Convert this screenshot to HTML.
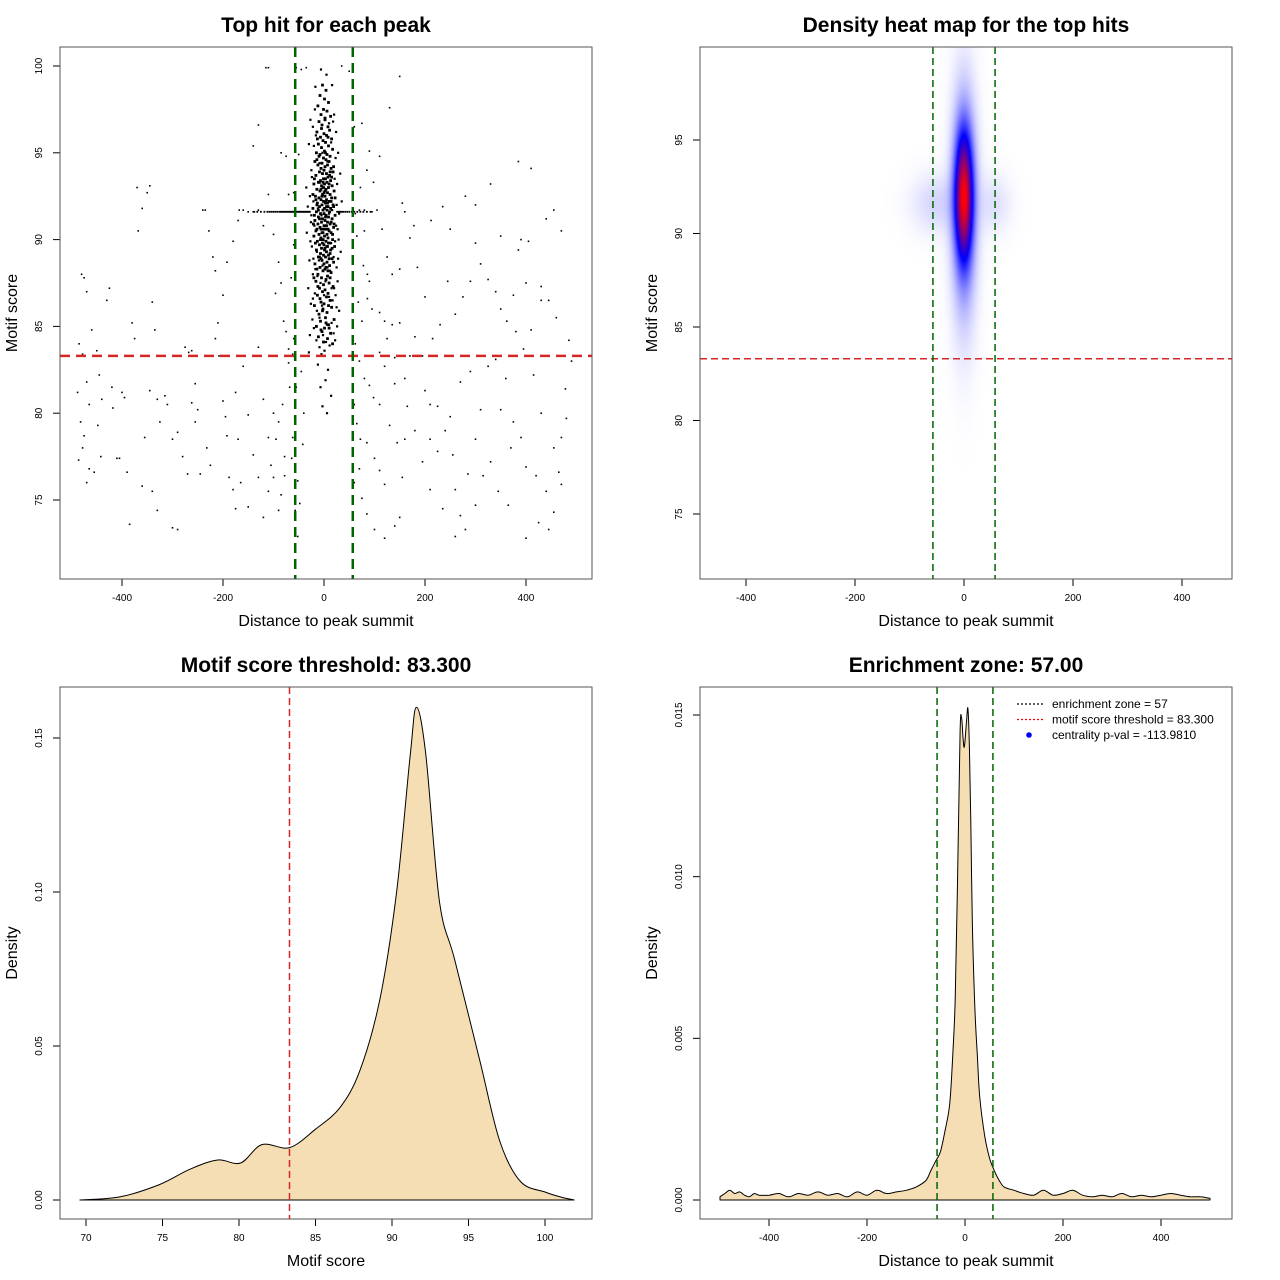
<!DOCTYPE html>
<html><head><meta charset="utf-8">
<style>
html,body{margin:0;padding:0;background:#fff;}
svg{display:block;font-family:"Liberation Sans",sans-serif;}
</style></head>
<body>
<svg id="root" width="1280" height="1280" viewBox="0 0 1280 1280" xmlns="http://www.w3.org/2000/svg">
<rect width="1280" height="1280" fill="#fff"/>
<foreignObject x="700" y="47" width="532" height="532">
<canvas id="heat" width="532" height="532" xmlns="http://www.w3.org/1999/xhtml" style="display:block"></canvas>
</foreignObject>
</svg>
<script>
// ---------- DATA ----------
const hitsBackground = [[-480,88],[-475,87.8],[-470,87],[-485,84],[-478,83.4],[-488,81.2],[-470,81.8],[-465,80.5],[-482,79.5],[-475,78.7],[-478,78],[-486,77.3],[-465,76.8],[-470,76],[-455,76.6],[-460,84.8],[-450,83.6],[-445,82.2],[-440,80.8],[-448,79.3],[-442,77.5],[-430,86.5],[-425,87.2],[-420,81.5],[-418,80.3],[-410,77.4],[-405,77.4],[-400,81.2],[-395,80.9],[-390,76.6],[-385,73.6],[-380,85.2],[-375,84.3],[-368,90.5],[-360,91.8],[-370,93],[-350,92.7],[-345,93.1],[-340,86.4],[-335,84.8],[-330,80.8],[-325,79.5],[-345,81.3],[-355,78.6],[-360,75.8],[-340,75.5],[-330,74.4],[-315,81],[-310,80.5],[-300,78.5],[-290,78.9],[-280,77.5],[-275,83.8],[-268,83.5],[-262,83.6],[-255,81.7],[-250,80.2],[-245,76.5],[-240,91.7],[-235,91.7],[-228,90.5],[-220,89],[-215,88.2],[-210,85.2],[-208,83.3],[-200,80.7],[-195,79.8],[-192,78.7],[-188,76.3],[-180,75.6],[-175,74.5],[-300,73.4],[-290,73.3],[-270,76.5],[-262,80.6],[-255,79.5],[-232,78],[-225,77],[-215,84.3],[-200,86.8],[-192,88.7],[-180,89.9],[-170,91.1],[-168,91.7],[-160,91.7],[-150,91.6],[-140,91.6],[-130,91.7],[-120,90.8],[-110,92.6],[-100,90.3],[-96,86.9],[-90,88.7],[-85,87.5],[-80,85.3],[-75,84.7],[-70,83.7],[-70,82.9],[-68,81.5],[-82,80.5],[-90,79.5],[-95,78.5],[-100,80],[-105,77],[-110,75.5],[-120,74],[-130,76.3],[-140,77.6],[-150,79.9],[-160,82.7],[-175,81.2],[-130,83.8],[-120,80.8],[-110,78.6],[-100,76.3],[-90,74.4],[-85,75.3],[-78,76.4],[-78,77.5],[-150,74.6],[-165,76],[-170,78.5],[-140,95.4],[-130,96.6],[-85,95],[-75,94.8],[-70,92.6],[-60,92.7],[-115,99.9],[-110,99.9],[-55,99.9],[-45,99.8],[-35,99.9],[-50,94.9],[-60,89.7],[-65,87.8],[-58,86],[-60,84.3],[-62,83.4],[-55,81.5],[-58,79.8],[-62,78.6],[-64,77.4],[-52,76.1],[-57,74.4],[-52,72.9],[-48,74.8],[-42,78.2],[-40,80],[-45,82.4],
[60,96.5],[75,96.7],[90,95.1],[110,94.8],[85,94],[72,93],[98,93.3],[80,91.7],[70,91.7],[95,91.6],[105,91.7],[62,91.5],[65,90.2],[80,90.5],[78,88.5],[86,88],[90,87.6],[68,86.4],[75,85.3],[86,86.6],[95,86],[110,85.8],[120,85.3],[135,85.1],[150,85.2],[62,84],[70,83],[80,82],[90,81.6],[98,80.9],[110,80.5],[60,80.5],[65,79.4],[72,78.5],[85,78.3],[100,77.4],[110,76.7],[120,75.9],[70,76.8],[60,76],[75,75.1],[85,74.2],[100,73.3],[120,72.8],[140,73.5],[150,74],[155,76.3],[160,78.5],[165,80.4],[170,83.3],[180,84.4],[195,83.3],[200,81.3],[210,80.5],[225,80.4],[240,79],[255,77.6],[260,75.6],[270,74.1],[285,76.5],[300,78.5],[310,80.2],[325,82.7],[340,83.1],[360,82],[375,79.5],[390,78.6],[400,76.9],[420,76.4],[440,75.5],[455,74.3],[465,76.6],[470,78.6],[480,79.7],[478,81.4],[490,83],[485,84.2],[460,85.5],[445,86.5],[430,87.3],[410,84.8],[395,83.7],[380,84.7],[362,85.3],[350,86],[340,87],[325,87.7],[310,88.6],[300,89.8],[290,87.6],[275,86.7],[260,85.7],[245,87.6],[230,85.1],[215,84.3],[200,86.7],[185,88.4],[170,90.1],[160,91.6],[155,92.1],[178,90.8],[212,91.1],[235,91.9],[250,90.6],[280,92.5],[300,92],[330,93.2],[385,94.5],[410,94.1],[440,91.2],[455,91.7],[470,90.5],[385,89.4],[390,90],[405,89.9],[430,86.5],[350,90.2],[375,86.8],[400,87.5],[180,79],[195,77.2],[210,75.6],[235,74.5],[260,72.9],[280,73.3],[300,74.7],[315,76.4],[330,77.2],[345,75.5],[365,74.7],[400,72.8],[425,73.7],[445,73.3],[470,75.9],[160,82],[140,81.7],[120,82.7],[130,79.3],[145,78.3],[150,99.4],[130,97.6],[50,99.7],[35,100],[115,90.6],[125,89],[135,88],[150,88.3],[125,84.3],[140,83.2],[110,83.5],[210,78.5],[225,77.8],[250,79.8],[270,81.8],[290,82.4],[350,80.2],[370,78],[455,78],[430,80],[415,82.2]];

const bandDist = [-138,-132,-125,-118,-112,-108,-104,-100,-96,-92,-88,-85,-82,-79,-76,-73,-70,-68,-66,-64,-62,-60,-58,-56,-54,-52,-50,-48,-46,-44,-42,-40,-38,-36,-34,-32,-30,-28,26,28,30,32,35,38,42,46,50,55,60,66,72,78,85,92];
const bandScore = 91.6;

const coreFlat = [-3,98.9,4,98.6,-8,98.3,1,98.1,9,97.9,-12,97.7,-1,97.5,6,97.4,-6,97.2,13,97.1,2,96.9,-10,96.8,-4,96.6,8,96.5,11,96.3,-14,96.2,0,96.1,5,96.0,-7,95.9,15,95.8,-2,95.7,3,95.6,-11,95.5,9,95.4,-5,95.3,17,95.2,1,95.1,-15,95.0,6,94.9,-8,94.9,12,94.8,-1,94.7,4,94.6,-18,94.5,10,94.5,-4,94.4,7,94.3,-12,94.3,2,94.2,14,94.1,-6,94.1,0,94.0,-9,93.9,18,93.9,5,93.8,-3,93.8,11,93.7,-16,93.7,8,93.6,-1,93.5,3,93.5,-7,93.4,13,93.4,-11,93.3,6,93.3,-20,93.2,1,93.2,16,93.1,-5,93.1,9,93.0,-2,93.0,-14,92.9,4,92.9,20,92.8,-8,92.8,0,92.7,7,92.7,-3,92.6,12,92.6,-17,92.5,2,92.5,-10,92.4,15,92.4,5,92.3,-6,92.3,-1,92.2,10,92.2,-13,92.1,3,92.1,18,92.0,-4,92.0,8,91.9,-9,91.9,1,91.8,-22,91.8,13,91.8,-2,91.7,6,91.7,-15,91.6,11,91.6,-7,91.5,0,91.5,22,91.4,4,91.4,-11,91.3,9,91.3,-3,91.2,16,91.2,-18,91.1,2,91.1,7,91.0,-5,91.0,-12,90.9,12,90.9,0,90.8,5,90.8,-8,90.7,19,90.7,-1,90.6,3,90.6,-16,90.5,10,90.5,-4,90.4,14,90.4,6,90.3,-10,90.3,1,90.2,-20,90.2,8,90.1,-6,90.1,-2,90.0,17,90.0,4,89.9,-13,89.9,11,89.8,-3,89.8,0,89.7,-9,89.7,7,89.6,21,89.6,-5,89.5,2,89.5,-15,89.4,13,89.4,5,89.3,-7,89.2,-1,89.1,9,89.1,-11,89.0,3,89.0,16,88.9,-4,88.8,6,88.7,-18,88.6,0,88.6,11,88.5,-8,88.4,2,88.3,-2,88.2,14,88.1,-12,88.0,7,87.9,-5,87.8,4,87.7,-16,87.6,10,87.5,-1,87.4,18,87.3,-9,87.2,2,87.1,-3,87.0,8,86.9,-13,86.8,5,86.7,12,86.5,-6,86.4,0,86.3,-19,86.2,15,86.1,-2,86.0,6,85.8,-10,85.7,3,85.5,20,85.4,-7,85.3,9,85.1,-15,85.0,1,84.9,-4,84.7,13,84.6,-11,84.4,7,84.3,-1,84.1,17,84.0,
-14,94.6,19,94.2,-19,93.5,15,93.6,-9,93.3,10,93.2,-6,92.9,14,92.2,-14,92.0,19,91.9,-19,91.4,5,91.9,-9,91.2,14,91.0,-14,90.6,17,90.3,-7,90.0,9,89.8,-17,89.8,1,89.4,12,89.2,-9,89.0,4,88.4,-14,88.3,10,88.9,-6,88.9,19,88.7,-20,87.8,8,88.2,-2,93.3,2,92.8,-4,92.5,7,92.1,-11,91.7,3,91.3,-6,90.6,8,90.6,-2,90.4,12,93.9,-10,94.8,3,95.0,-13,95.8,8,95.9,-5,96.4,2,97.0,-16,92.3,22,92.4,-22,92.6,20,90.9,-21,90.9,16,89.5,-12,87.3,12,87.8,-8,86.6,9,86.2,-3,85.9,4,85.2,-6,84.8,10,84.9];

const coreOuter = [-30,95.5,28,95,-25,94,32,93.8,-35,93,26,93.2,-28,92.5,35,92.2,-32,91.9,30,91.5,-26,91,24,90.8,-34,90.4,29,90,-24,89.6,33,89.3,-29,88.8,25,88.4,-22,88,27,87.6,-31,87.2,23,86.8,-26,86.3,30,85.9,-23,85.4,26,85,-28,84.5,22,84.2,-18,97.5,20,97.2,-22,96.5,24,96.2,-27,96.9,18,96.8,-20,95.4,23,94.7,-24,93.6,21,93.5,-21,92.2,25,92,-25,91.4,27,90.6,-19,90.8,22,89.9,-27,89.9,19,89,-21,88.9,28,88.9,-17,88.3,20,87.2,-18,86.9,17,86.5,-22,86.6,25,86.1,-14,85.9,15,85.2,-20,84.9,19,84.6,-9,83.8,11,83.9,-30,83.5,28,83.3,-17,98.8,16,98.9,5,99.5,-6,99.8,10,96.7,-16,96.0,14,95.6,-3,95.0,7,94.5,-9,94.4,0,93.0,4,92.2,-12,91.8,16,91.7,-5,91.4,10,91.5,-1,90.0,5,89.6,-14,89.3,14,89.8,-3,88.5,7,88.4,-10,88.8,12,88.2,-7,87.5,3,87.6,-13,87.9,15,87.2,0,86.8,-4,86.2,10,86.7,-9,85.5,6,85.1,-2,84.5,4,84.1,-15,84.2,1,83.6,-5,83.4,8,82.5,-12,82.8,3,81.9,-7,81.5,14,81,-3,80.4,6,80];

// heat map density blobs: [dist, score, sdDist, sdScore, weight]
const heatBlobs = [[0,92,11,2.3,0.8],[0,91.5,16,4.2,0.28],[-50,91.6,32,1.1,0.08],[55,91.6,22,1.1,0.06]];

// score density
const scoreGrid = [69.6,72.2,74.8,76.8,78.6,80.1,81.5,83.3,85,86.6,87.9,89.2,90.3,91.2,91.6,92.2,93.1,94.1,95.75,97.05,98.4,100,101,101.9];
const scoreDens = [0,0.001,0.005,0.010,0.013,0.012,0.018,0.017,0.023,0.030,0.042,0.065,0.10,0.145,0.160,0.145,0.097,0.078,0.045,0.019,0.006,0.0026,0.001,0];

// distance density (units 1e-4)
const distGrid = [-500,-490,-480,-470,-460,-450,-440,-430,-420,-400,-380,-360,-340,-320,-300,-280,-260,-240,-220,-200,-180,-160,-140,-120,-100,-80,-70,-60,-50,-40,-31,-25,-20,-15,-10,-7,-4,-2,0,3,6,9,12,15,20,25,30,40,50,60,70,80,100,120,140,160,180,200,220,240,260,280,300,320,340,360,380,400,420,440,460,480,500];
const distDens = [1,2,3,2,2.5,1.5,1,2,1.5,1.5,2,1,2,1.5,2.5,1.5,2,1,2.5,1.5,3,2,2.5,3,4,6,9,12,15,22,30,45,62,100,145,149,143,140,142,148,152,140,115,85,60,45,32,20,13,9,6,4,3,2,1.5,3,1.5,2,3,1.5,1,1.5,1,2,1,1.5,1,1.5,2,1.5,1,1,0.5];

const xTicksDist = [-400,-200,0,200,400];
const yTicksScore1 = [75,80,85,90,95,100];
const yTicksScore2 = [75,80,85,90,95];
const xTicksScore = [70,75,80,85,90,95,100];
const yTicksDens3 = [0,0.05,0.10,0.15];
const yTicksDens4 = [0,0.005,0.010,0.015];
const threshold = 83.3;
const zone = 57;

// ---------- DRAW ----------
const NS='http://www.w3.org/2000/svg';
const root=document.getElementById('root');
function el(tag,attrs,parent){const e=document.createElementNS(NS,tag);for(const k in attrs)e.setAttribute(k,attrs[k]);(parent||root).appendChild(e);return e;}
function lin(d0,d1,p0,p1){return v=>p0+(v-d0)*(p1-p0)/(d1-d0);}
function txt(x,y,s,opt,name){const t=el('text',Object.assign({x:x,y:y,'text-anchor':'middle','font-size':opt.size||10,fill:'#000'},opt.attrs||{}));t.textContent=s;


return t;}

function panel(P){
  const g=el('g',{});
  
  
  txt((P.x0+P.x1)/2,P.y0-15,P.title,{size:21,attrs:{'font-weight':'bold'}},'chart-title');
  P.xt.forEach((v,i)=>{const x=P.sx(v);
    const l=el('line',{x1:x,x2:x,y1:P.y1,y2:P.y1+7,stroke:'#000','stroke-width':1});
    
    
    txt(x,P.y1+22,P.xl[i],{size:10},'x-tick-label');});
  const xa=el('line',{x1:P.sx(P.xt[0]),x2:P.sx(P.xt[P.xt.length-1]),y1:P.y1,y2:P.y1,stroke:'#000'});
  
  
  P.yt.forEach((v,i)=>{const y=P.sy(v);
    const l=el('line',{x1:P.x0-7,x2:P.x0,y1:y,y2:y,stroke:'#000'});
    
    
    txt(P.x0-18,y,P.yl[i],{size:10,attrs:{transform:`rotate(-90 ${P.x0-18} ${y})`}},'y-tick-label');});
  const ya=el('line',{x1:P.x0,x2:P.x0,y1:P.sy(P.yt[0]),y2:P.sy(P.yt[P.yt.length-1]),stroke:'#000'});
  
  
  txt((P.x0+P.x1)/2,P.y1+47,P.xlab,{size:16},'x-axis-title');
  const yx=P.x0-43,yy=(P.y0+P.y1)/2;
  txt(yx,yy,P.ylab,{size:16,attrs:{transform:`rotate(-90 ${yx} ${yy})`}},'y-axis-title');
}
function box(P){const b=el('rect',{x:P.x0,y:P.y0,width:P.x1-P.x0,height:P.y1-P.y0,fill:'none',stroke:'#555','stroke-width':1});
  
  }
function clipFor(P,id){const c=el('clipPath',{id:id});el('rect',{x:P.x0,y:P.y0,width:P.x1-P.x0,height:P.y1-P.y0},c);return `url(#${id})`;}

// Panel 1: scatter
const P1={x0:60,x1:592,y0:47,y1:579,sx:lin(0,400,324,526),sy:lin(75,100,500,66),xt:xTicksDist,xl:xTicksDist.map(String),yt:yTicksScore1,yl:yTicksScore1.map(String),title:'Top hit for each peak',xlab:'Distance to peak summit',ylab:'Motif score',name:'scatter-panel'};
panel(P1);
const g1=el('g',{'clip-path':clipFor(P1,'c1'),fill:'#000'});
function dot(x,y,s){const r=el('rect',{x:(x-s/2).toFixed(1),y:(y-s/2).toFixed(1),width:s,height:s},g1);
  
  }
hitsBackground.forEach(p=>dot(P1.sx(p[0]),P1.sy(p[1]),1.6));
bandDist.forEach(d=>dot(P1.sx(d),P1.sy(bandScore),1.8));
for(let i=0;i<coreFlat.length;i+=2){dot(P1.sx(coreFlat[i]),P1.sy(coreFlat[i+1]),2.8);}
for(let i=0;i<coreOuter.length;i+=2){dot(P1.sx(coreOuter[i]),P1.sy(coreOuter[i+1]),2.2);}
let l;
l=el('line',{x1:P1.x0,x2:P1.x1,y1:P1.sy(threshold),y2:P1.sy(threshold),stroke:'#d62728','stroke-width':2.5,'stroke-dasharray':'10 6'});


[-zone,zone].forEach(z=>{const q=el('line',{x1:P1.sx(z),x2:P1.sx(z),y1:P1.y0,y2:P1.y1,stroke:'#006400','stroke-width':2.5,'stroke-dasharray':'10 6'});
  
  });
box(P1);

// Panel 2: heatmap
const P2={x0:700,x1:1232,y0:47,y1:579,sx:lin(0,200,964,1073),sy:lin(75,95,514,140),xt:xTicksDist,xl:xTicksDist.map(String),yt:yTicksScore2,yl:yTicksScore2.map(String),title:'Density heat map for the top hits',xlab:'Distance to peak summit',ylab:'Motif score',name:'heatmap-panel'};
panel(P2);
(function(){
  const cv=document.getElementById('heat');const ctx=cv.getContext('2d');const img=ctx.createImageData(532,532);
  const ix=lin(P2.sx(0),P2.sx(200),0,200), iy=lin(P2.sy(75),P2.sy(95),75,95);
  const mx=heatBlobs[0][4]+heatBlobs[1][4];
  for(let py=0;py<532;py++){const s=iy(P2.y0+py+0.5);
    for(let px=0;px<532;px++){const d=ix(P2.x0+px+0.5);let v=0;
      heatBlobs.forEach(b=>{const a=(d-b[0])/b[2],c=(s-b[1])/b[3];v+=b[4]*Math.exp(-0.5*(a*a+c*c));});
      let t=Math.min(1,v/mx);let r,g,bb;
      if(t<0.45){const k=t/0.45;r=255*(1-k);g=255*(1-k);bb=255;}
      else{const k=(t-0.45)/0.55;r=255*k;g=0;bb=255*(1-k);}
      const o=(py*532+px)*4;img.data[o]=r;img.data[o+1]=g;img.data[o+2]=bb;img.data[o+3]=255;}}
  ctx.putImageData(img,0,0);
})();
l=el('line',{x1:P2.x0,x2:P2.x1,y1:P2.sy(threshold),y2:P2.sy(threshold),stroke:'#d62728','stroke-width':1.5,'stroke-dasharray':'7 4'});


[-zone,zone].forEach(z=>{const q=el('line',{x1:P2.sx(z),x2:P2.sx(z),y1:P2.y0,y2:P2.y1,stroke:'#006400','stroke-width':1.5,'stroke-dasharray':'7 4'});
  
  });
box(P2);

// smooth area path (Catmull-Rom)
function areaPath(P,xs,ys,scale){
  const pts=xs.map((x,i)=>[P.sx(x),P.sy(ys[i]*scale)]);
  let d='M'+pts[0][0].toFixed(1)+','+P.sy(0).toFixed(1)+'L'+pts[0][0].toFixed(1)+','+pts[0][1].toFixed(1);
  for(let i=0;i<pts.length-1;i++){
    const p0=pts[Math.max(0,i-1)],p1=pts[i],p2=pts[i+1],p3=pts[Math.min(pts.length-1,i+2)];
    const c1=[p1[0]+(p2[0]-p0[0])/6,p1[1]+(p2[1]-p0[1])/6],c2=[p2[0]-(p3[0]-p1[0])/6,p2[1]-(p3[1]-p1[1])/6];
    d+=`C${c1[0].toFixed(1)},${c1[1].toFixed(1)} ${c2[0].toFixed(1)},${c2[1].toFixed(1)} ${p2[0].toFixed(1)},${p2[1].toFixed(1)}`;
  }
  return d+'L'+pts[pts.length-1][0].toFixed(1)+','+P.sy(0).toFixed(1)+'Z';}

// Panel 3: score density
const P3={x0:60,x1:592,y0:687,y1:1219,sx:lin(70,100,86,545),sy:lin(0,0.15,1200,738),xt:xTicksScore,xl:xTicksScore.map(String),yt:yTicksDens3,yl:['0.00','0.05','0.10','0.15'],title:'Motif score threshold: 83.300',xlab:'Motif score',ylab:'Density',name:'score-density-panel'};
panel(P3);
let a=el('path',{d:areaPath(P3,scoreGrid,scoreDens,1),fill:'#f5deb3',stroke:'#000','stroke-width':1,'stroke-linejoin':'round'});


l=el('line',{x1:P3.sx(threshold),x2:P3.sx(threshold),y1:P3.y0,y2:P3.y1,stroke:'#d62728','stroke-width':1.5,'stroke-dasharray':'7 4'});


box(P3);

// Panel 4: distance density
const P4={x0:700,x1:1232,y0:687,y1:1219,sx:lin(0,400,965,1161),sy:lin(0,0.015,1200,715),xt:xTicksDist,xl:xTicksDist.map(String),yt:yTicksDens4,yl:['0.000','0.005','0.010','0.015'],title:'Enrichment zone: 57.00',xlab:'Distance to peak summit',ylab:'Density',name:'distance-density-panel'};
panel(P4);
a=el('path',{d:areaPath(P4,distGrid,distDens,1e-4),fill:'#f5deb3',stroke:'#000','stroke-width':1,'stroke-linejoin':'round'});


[-zone,zone].forEach(z=>{const q=el('line',{x1:P4.sx(z),x2:P4.sx(z),y1:P4.y0,y2:P4.y1,stroke:'#006400','stroke-width':1.5,'stroke-dasharray':'7 4'});
  
  });
box(P4);
// legend
const lg=el('g',{});


const leg=[['enrichment zone = 57','#000000','line'],['motif score threshold = 83.300','#ff0000','line'],['centrality p-val = -113.9810','#0000ff','dot']];
leg.forEach((e,i)=>{const y=704+i*15.5;
  if(e[2]==='line'){const q=el('line',{x1:1017,x2:1043,y1:y,y2:y,stroke:e[1],'stroke-width':1.2,'stroke-dasharray':'2 2'},lg);
    
    }
  else{const c=el('circle',{cx:1029,cy:y,r:2.8,fill:e[1]},lg);
    
    }
  txt(1052,y+4,e[0],{size:12,attrs:{'text-anchor':'start'}},'legend-entry');});
</script>
</body></html>
